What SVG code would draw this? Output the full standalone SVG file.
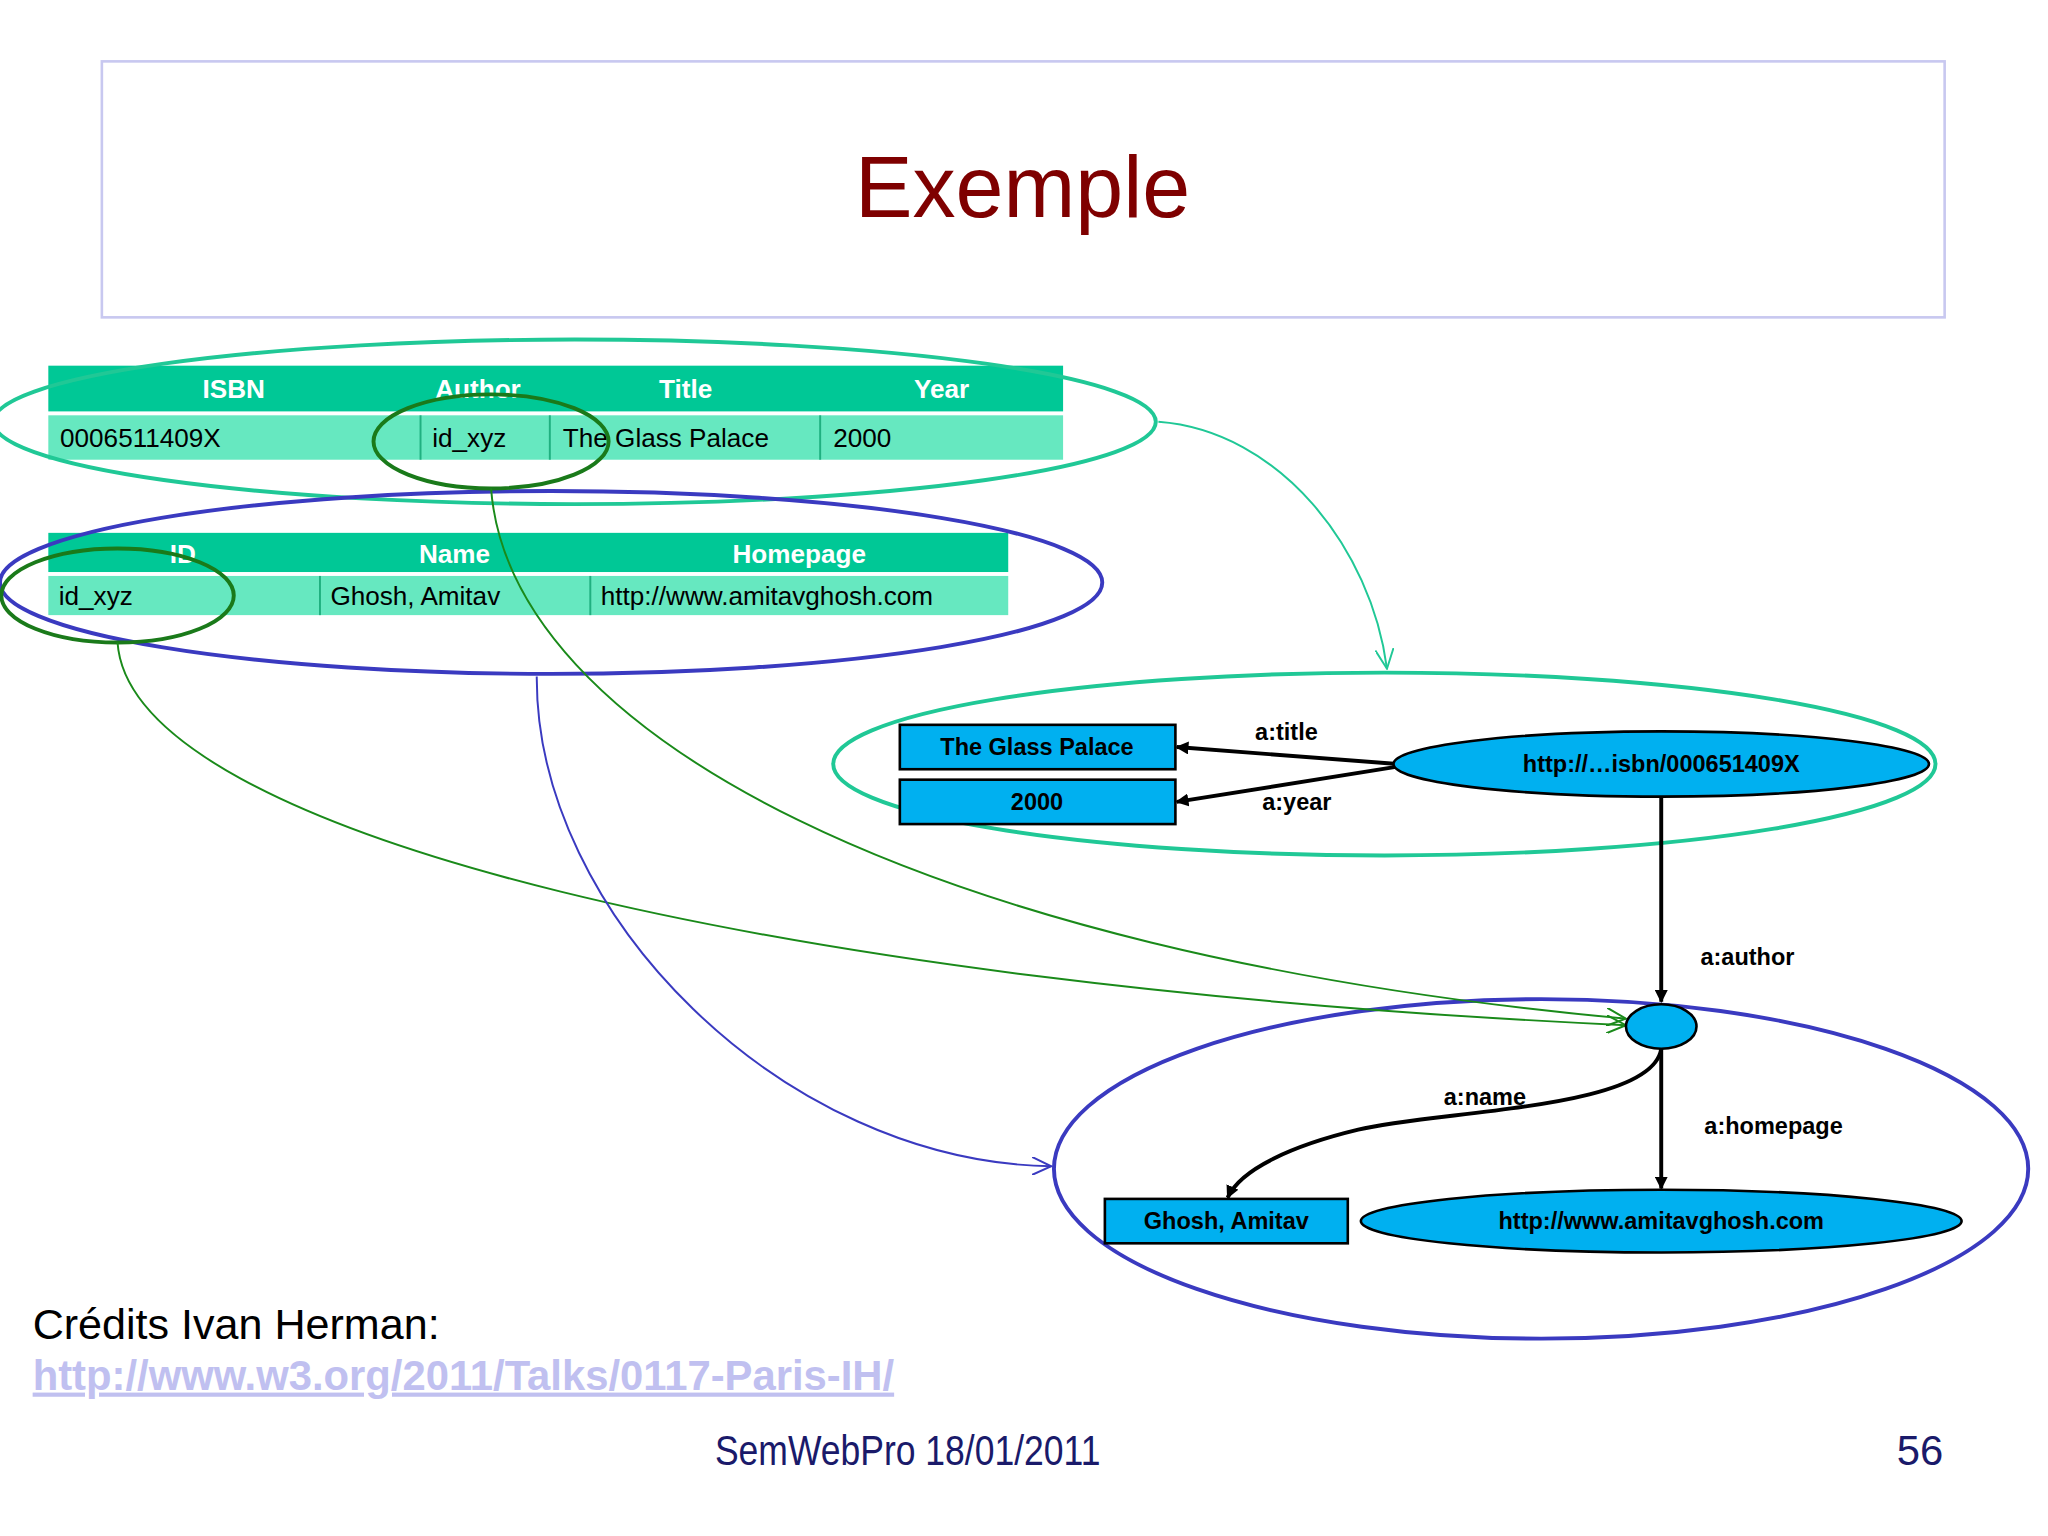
<svg xmlns="http://www.w3.org/2000/svg" width="2048" height="1536" viewBox="0 0 2048 1536">
<style>
.hd{font-family:"Liberation Sans",Arial,sans-serif;font-weight:bold;font-size:20px;fill:#fff;text-anchor:middle}
.cell{font-family:"Liberation Sans",Arial,sans-serif;font-size:20px;fill:#000}
.lbl{font-family:"Liberation Sans",Arial,sans-serif;font-weight:bold;font-size:18px;fill:#000;text-anchor:middle}
.node{fill:#00b0f0;stroke:#000;stroke-width:2}
.edge{fill:none;stroke:#000;stroke-width:3}
</style>
<defs>
<marker id="ab" markerWidth="10" markerHeight="10" refX="9" refY="5" orient="auto" markerUnits="userSpaceOnUse"><path d="M0,0 L10,5 L0,10 z" fill="#000"/></marker>
<marker id="ag" markerWidth="16" markerHeight="14" refX="15" refY="7" orient="auto" markerUnits="userSpaceOnUse"><path d="M0,0 L15,7 L0,14" fill="none" stroke="#1a8a1a" stroke-width="1.5"/></marker>
<marker id="abl" markerWidth="16" markerHeight="14" refX="15" refY="7" orient="auto" markerUnits="userSpaceOnUse"><path d="M0,0 L15,7 L0,14" fill="none" stroke="#3a3ac0" stroke-width="1.5"/></marker>
<marker id="at" markerWidth="16" markerHeight="14" refX="15" refY="7" orient="auto" markerUnits="userSpaceOnUse"><path d="M0,0 L15,7 L0,14" fill="none" stroke="#20c896" stroke-width="1.5"/></marker>
</defs>
<rect width="2048" height="1536" fill="#fff"/>
<g transform="scale(1.306)">
<g id="title">
<rect x="78" y="47" width="1411" height="196" fill="none" stroke="#c8c8f0" stroke-width="2"/>
<text x="783" y="166" font-family="Liberation Sans,Arial,sans-serif" font-size="66" fill="#7f0000" text-anchor="middle">Exemple</text>
</g>
<g id="table-books">
<rect x="37" y="280" width="777" height="35" fill="#00c896"/>
<rect x="37" y="318" width="777" height="34" fill="#66e8c0"/>
<g stroke="#20b080" stroke-width="1.5"><line x1="322" y1="318" x2="322" y2="352"/><line x1="421" y1="318" x2="421" y2="352"/><line x1="628" y1="318" x2="628" y2="352"/></g>
<text class="hd" x="179" y="305">ISBN</text><text class="hd" x="366" y="305">Author</text><text class="hd" x="525" y="305">Title</text><text class="hd" x="721" y="305">Year</text>
<text class="cell" x="46" y="342">0006511409X</text><text class="cell" x="331" y="342">id_xyz</text><text class="cell" x="431" y="342">The Glass Palace</text><text class="cell" x="638" y="342">2000</text>
</g>
<g id="table-authors">
<rect x="37" y="408" width="735" height="30" fill="#00c896"/>
<rect x="37" y="441" width="735" height="30" fill="#66e8c0"/>
<g stroke="#20b080" stroke-width="1.5"><line x1="245" y1="441" x2="245" y2="471"/><line x1="452" y1="441" x2="452" y2="471"/></g>
<text class="hd" x="140" y="431" font-size="19">ID</text><text class="hd" x="348" y="431" font-size="19">Name</text><text class="hd" x="612" y="431" font-size="19">Homepage</text>
<text class="cell" x="45" y="463" font-size="19">id_xyz</text><text class="cell" x="253" y="463" font-size="19">Ghosh, Amitav</text><text class="cell" x="460" y="463" font-size="19">http://www.amitavghosh.com</text>
</g>
<g id="highlights" fill="none" stroke-width="3">
<ellipse cx="440" cy="323" rx="445" ry="63" stroke="#20c896"/>
<ellipse cx="422" cy="446" rx="422" ry="70" stroke="#3a3ac0"/>
<ellipse cx="376" cy="338" rx="90" ry="36" stroke="#1a7a1a"/>
<ellipse cx="90" cy="456" rx="89" ry="36" stroke="#1a7a1a"/>
<ellipse cx="1060" cy="585" rx="422" ry="70" stroke="#20c896"/>
<ellipse cx="1180" cy="895" rx="373" ry="130" stroke="#3a3ac0"/>
</g>
<g id="connectors" fill="none">
<path d="M376,374 C390,560 700,730 1245,780" stroke="#1a8a1a" stroke-width="1.5" marker-end="url(#ag)"/>
<path d="M90,492 C100,640 600,755 1245,785" stroke="#1a8a1a" stroke-width="1.5" marker-end="url(#ag)"/>
<path d="M411,518 C410,700 600,890 805,893" stroke="#3a3ac0" stroke-width="1.5" marker-end="url(#abl)"/>
<path d="M887,323 C980,330 1050,420 1062,512" stroke="#20c896" stroke-width="1.5" marker-end="url(#at)"/>
<path class="edge" d="M1070,585 L901,572" marker-end="url(#ab)"/>
<path class="edge" d="M1070,587 L901,614" marker-end="url(#ab)"/>
<path class="edge" d="M1272,610 L1272,767" marker-end="url(#ab)"/>
<path class="edge" d="M1272,803 C1265,850 1100,850 1040,865 C990,877 950,895 940,917" marker-end="url(#ab)"/>
<path class="edge" d="M1272,803 L1272,910" marker-end="url(#ab)"/>
<text class="lbl" x="985" y="567">a:title</text>
<text class="lbl" x="993" y="620">a:year</text>
<text class="lbl" x="1338" y="739">a:author</text>
<text class="lbl" x="1137" y="846">a:name</text>
<text class="lbl" x="1358" y="868">a:homepage</text>
</g>
<g id="n-title"><rect class="node" x="689" y="555" width="211" height="34"/><text class="lbl" x="794" y="578">The Glass Palace</text></g>
<g id="n-year"><rect class="node" x="689" y="597" width="211" height="34"/><text class="lbl" x="794" y="620">2000</text></g>
<g id="n-book"><ellipse class="node" cx="1272" cy="585" rx="205" ry="25"/><text class="lbl" x="1272" y="591">http://…isbn/000651409X</text></g>
<g id="n-blank"><ellipse class="node" cx="1272" cy="786" rx="27" ry="17"/></g>
<g id="n-name"><rect class="node" x="846" y="918" width="186" height="34"/><text class="lbl" x="939" y="941">Ghosh, Amitav</text></g>
<g id="n-home"><ellipse class="node" cx="1272" cy="935" rx="230" ry="24"/><text class="lbl" x="1272" y="941">http://www.amitavghosh.com</text></g>
<g id="footer">
<text x="25" y="1025" font-family="Liberation Sans,Arial,sans-serif" font-size="33" fill="#000">Crédits Ivan Herman:</text>
<text x="25" y="1064" font-family="Liberation Sans,Arial,sans-serif" font-size="32" font-weight="bold" fill="#c0c0f0" text-decoration="underline">http://www.w3.org/2011/Talks/0117-Paris-IH/</text>
<text x="695" y="1122" font-family="Liberation Sans Narrow,Liberation Sans,sans-serif" font-size="32" fill="#1a1a6a" text-anchor="middle" transform="translate(695 1122) scale(0.85 1) translate(-695 -1122)">SemWebPro 18/01/2011</text>
<text x="1488" y="1122" font-family="Liberation Sans,sans-serif" font-size="32" fill="#1a1a6a" text-anchor="end">56</text>
</g>
</g>
</svg>
